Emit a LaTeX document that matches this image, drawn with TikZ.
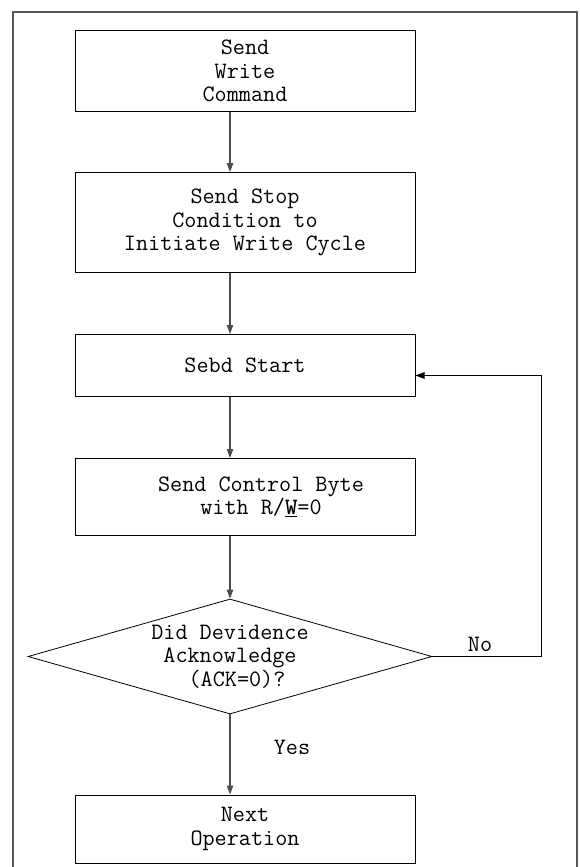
\documentclass[tikz,border=0pt]{standalone}
\usepackage{fontspec}
\usepackage{tikz}
\usetikzlibrary{shapes.geometric,arrows.meta,positioning,calc}

\begin{document}
\begin{tikzpicture}[
    x=1pt, y=1pt,
    font=\ttfamily\fontsize{23.5}{23.5}\selectfont,
    box/.style={rectangle, draw=black, line width=1pt, minimum width=340pt, align=center, inner sep=0pt},
    decide/.style={diamond, draw=black, line width=0.8pt, aspect=3.5, minimum width=404pt, minimum height=115pt, inner sep=0pt, align=center},
    arr/.style={-{Triangle[length=9pt,width=6.5pt]}, draw=black!70, line width=1.1pt},
]
    \useasboundingbox (0,0) rectangle (579,-867);

    % Frame
    \draw[black!65, line width=1.2pt] (13,-867) -- (13,-12) -- (577,-12) -- (577,-867);

    % Steps
    \node[box, minimum height=80pt] (write) at (245,-71) {Send\\Write\\Command};
    \node[box, minimum height=100pt] (stop) at (245,-222.5) {Send Stop\\Condition to\\Initiate Write Cycle};
    \node[box, minimum height=62pt] (start) at (245,-365.5) {Sebd Start};
    \node[box, minimum height=77pt] (ctrl) at (245,-497) {\hspace*{32pt}Send Control Byte\\\hspace*{32pt}with R/\underline{\textbf{W}}=0};

    % Decision
    \node[decide] (ack) at (230,-656.5) {Did Devidence\\Acknowledge\\\hspace*{14pt}(ACK=0)?};

    \node[box, minimum height=68pt] (next) at (245,-829) {Next\\Operation};

    % Labels
    \node (no) at (480,-644) {No};
    \node (yes) at (292,-747) {Yes};

    % Arrows
    \draw[arr] (write.south -| ack.north) -- (stop.north -| ack.north);
    \draw[arr] (stop.south -| ack.north) -- (start.north -| ack.north);
    \draw[arr] (start.south -| ack.north) -- (ctrl.north -| ack.north);
    \draw[arr] (ctrl.south -| ack.north) -- (ack.north);
    \draw[arr] (ack.south) -- (next.north -| ack.south);

    % Retry loop
    \draw[arr, draw=black, line width=0.8pt] (ack.east) -- ++(109,0) |- ([yshift=-10pt]start.east);
\end{tikzpicture}
\end{document}
